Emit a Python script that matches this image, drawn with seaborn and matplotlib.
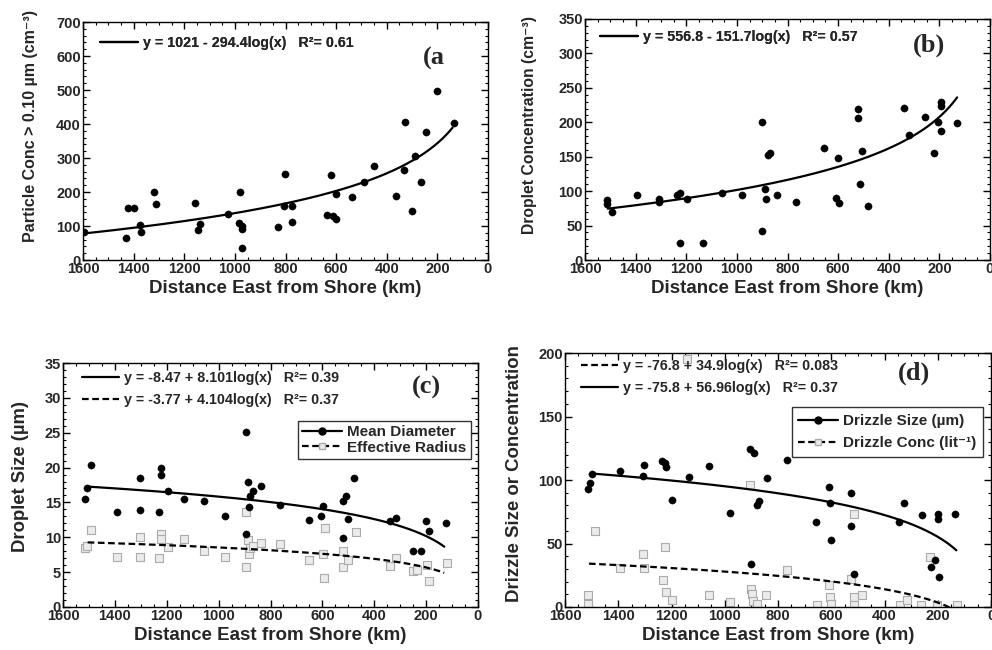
import numpy as np
import pandas as pd
import matplotlib
matplotlib.use("Agg")
import matplotlib.pyplot as plt
from matplotlib.lines import Line2D
from matplotlib.ticker import MultipleLocator
import seaborn as sns

# ---------------- data ----------------
# (a) particle concentration > 0.10 um
a_x = [1597, 1431, 1424, 1397, 1375, 1371, 1321, 1310, 1159, 1147, 1138, 1027, 980, 984, 973, 972, 971,
       831, 802, 805, 776, 774, 638, 620, 614, 602, 602, 536, 491, 449, 365, 328, 331, 302, 288, 266, 246, 201, 136]
a_y = [82, 65, 153, 153, 104, 81, 200, 165, 168, 88, 107, 136, 199, 108, 99, 90, 34,
       97, 254, 158, 158, 112, 132, 250, 128, 122, 194, 184, 228, 277, 188, 405, 265, 145, 305, 228, 377, 496, 403]
# (b) droplet concentration
b_x = [1514, 1512, 1495, 1395, 1308, 1306, 1235, 1225, 1225, 1197, 1135, 1057, 978, 902, 902, 888, 886, 877, 868, 843,
       765, 654, 602, 607, 598, 523, 523, 512, 506, 482, 341, 320, 257, 223, 207, 193, 193, 193, 129]
b_y = [87, 82, 70, 94, 88, 84, 95, 98, 24, 88, 24, 98, 94, 201, 42, 103, 88, 153, 156, 95,
       84, 163, 148, 90, 83, 206, 220, 111, 158, 79, 221, 182, 208, 155, 200, 229, 224, 187, 199]
# (c) mean diameter and effective radius
c_x = [1514, 1507, 1492, 1391, 1305, 1303, 1231, 1223, 1223, 1195, 1134, 1057, 977, 896, 896, 886, 883, 878, 868, 838,
       763, 653, 604, 597, 520, 521, 510, 503, 479, 339, 318, 251, 219, 201, 189, 124]
c_y = [15.5, 17.1, 20.4, 13.6, 18.5, 13.9, 13.6, 20.0, 18.9, 16.7, 15.5, 15.2, 13.0, 25.1, 10.5, 17.9, 14.3, 15.9, 16.7, 17.4,
       14.7, 12.5, 13.1, 14.5, 9.9, 15.2, 15.9, 12.6, 18.5, 12.4, 12.7, 8.0, 8.1, 12.4, 10.9, 12.0]
r_x = [1514, 1507, 1492, 1391, 1305, 1303, 1223, 1223, 1231, 1195, 1134, 1057, 977, 896, 896, 886, 883, 878, 868, 838,
       763, 653, 597, 588, 594, 520, 521, 503, 472, 339, 316, 251, 235, 197, 187, 120]
r_y = [8.4, 8.8, 11.0, 7.2, 10.0, 7.2, 10.5, 9.8, 7.0, 8.6, 9.7, 8.1, 7.2, 13.6, 5.8, 9.6, 7.6, 8.4, 8.8, 9.2,
       9.1, 6.8, 7.6, 11.3, 4.1, 8.1, 5.7, 6.8, 10.7, 5.9, 7.0, 5.1, 5.3, 6.0, 3.7, 6.3]
# (d) drizzle size and drizzle concentration
d_x = [1515, 1507, 1500, 1393, 1303, 1306, 1234, 1224, 1222, 1197, 1136, 1059, 979, 905, 890, 900, 880, 871, 843, 767,
       659, 608, 605, 601, 527, 526, 514, 346, 326, 261, 227, 211, 200, 200, 197, 134]
d_y = [92.7, 97.9, 104.5, 106.8, 111.8, 103.1, 115, 113.4, 110.2, 84, 102, 110.8, 74.3, 124.4, 121.5, 33.6, 80, 83.2, 101.6, 115.5,
       67, 94.5, 81.9, 52.5, 90, 64, 26.2, 67, 81.9, 72.7, 31.5, 36.7, 73.5, 69, 23.6, 73.5]
n_x = [1512, 1512, 1487, 1393, 1306, 1302, 1224, 1233, 1221, 1197, 1143, 1058, 980, 905, 900, 899, 893, 880, 845, 767,
       655, 608, 605, 601, 526, 514, 516, 486, 516, 342, 317, 264, 229, 204, 127]
n_y = [9.2, 2.6, 59.6, 30.4, 41.5, 31, 47.2, 21, 11.8, 5.8, 195, 9.7, 3.9, 95.8, 14.4, 10.5, 4.7, 2.6, 9.2, 28.9,
       1.3, 17, 7.9, 2.1, 22.3, 73.5, 7.9, 9.7, 1.3, 1.8, 5.8, 1.8, 39.4, 1.8, 1.3]

# fitted log curves shown on the chart: y = intercept + slope*log10(x), drawn over [x_start, x_end]
fit_a = (1021.0, -294.4, 1600, 140)
fit_b = (556.8, -151.7, 1510, 130)
fit_c_mean = (-8.47, 8.101, 1505, 130)
fit_c_eff = (-3.77, 4.104, 1505, 130)
fit_d_size = (-75.8, 56.96, 1500, 130)
fit_d_conc = (-76.8, 34.9, 1510, 130)

eq_a = ["y = 1021 - 294.4log(x)   R\u00b2= 0.61"]
eq_b = ["y = 556.8 - 151.7log(x)   R\u00b2= 0.57"]
eq_c = ["y = -8.47 + 8.101log(x)   R\u00b2= 0.39", "y = -3.77 + 4.104log(x)   R\u00b2= 0.37"]
eq_d = ["y = -76.8 + 34.9log(x)   R\u00b2= 0.083", "y = -75.8 + 56.96log(x)   R\u00b2= 0.37"]

xlabel = "Distance East from Shore (km)"
ylabels = ["Particle Conc > 0.10 \u00b5m (cm\u207b\u00b3)", "Droplet Concentration (cm\u207b\u00b3)",
           "Droplet Size (\u00b5m)", "Drizzle Size or Concentration"]
panel_tags = ["(a", "(b)", "(c)", "(d)"]

# ---------------- style ----------------
sns.set_theme(style="ticks")
FAM = ["Liberation Sans", "DejaVu Sans"]
plt.rcParams["font.family"] = FAM
plt.rcParams["font.weight"] = "bold"
plt.rcParams["axes.labelweight"] = "bold"
plt.rcParams["axes.edgecolor"] = "black"
plt.rcParams["axes.linewidth"] = 1.0

fig = plt.figure(figsize=(9.92, 6.5), dpi=100)
ax_a = fig.add_axes([83 / 992, 1 - 260 / 650, 405 / 992, 238 / 650])
ax_b = fig.add_axes([585 / 992, 1 - 260 / 650, 405 / 992, 241 / 650])
ax_c = fig.add_axes([63 / 992, 1 - 607 / 650, 415 / 992, 244 / 650])
ax_d = fig.add_axes([565 / 992, 1 - 607 / 650, 426 / 992, 254 / 650])

DOT = dict(color="black", s=27, edgecolor="black", linewidth=0.3, marker="o", zorder=3)
SQ_FACE, SQ_EDGE = "#ebebeb", "#ababab"
SQ = dict(color=SQ_FACE, s=28, edgecolor=SQ_EDGE, linewidth=0.8, marker="s", zorder=2)
DASH = (3.0, 1.6)


def fit_curve(fit):
    b0, b1, xs, xe = fit
    xx = np.linspace(xs, xe, 300)
    return pd.DataFrame({"x": xx, "y": b0 + b1 * np.log10(xx)})


def draw_fit(ax, fit, dashed=False):
    df = fit_curve(fit)
    sns.lineplot(data=df, x="x", y="y", ax=ax, color="black", lw=1.6, sort=False,
                 zorder=4, legend=False)
    if dashed:
        ax.lines[-1].set_dashes(DASH)


def style_axes(ax, ylim, ymajor, ylabel, ylsize, labelpad, label_y):
    ax.set_xlim(1600, 0)
    ax.set_ylim(*ylim)
    ax.xaxis.set_major_locator(MultipleLocator(200))
    ax.xaxis.set_minor_locator(MultipleLocator(50))
    ax.yaxis.set_major_locator(MultipleLocator(ymajor))
    ax.yaxis.set_minor_locator(MultipleLocator(ymajor / 5))
    ax.tick_params(which="both", direction="in", top=True, right=True, color="black")
    ax.tick_params(which="major", length=5, width=1, labelsize=10.5, pad=1.5)
    ax.tick_params(which="minor", length=2.5, width=0.8)
    for lab in ax.get_xticklabels() + ax.get_yticklabels():
        lab.set_fontweight("bold")
    ax.set_xlabel(xlabel, fontsize=13.5, fontweight="bold", labelpad=3)
    ax.set_ylabel(ylabel, fontsize=ylsize, fontweight="bold", labelpad=labelpad)
    ax.yaxis.label.set_y(label_y)
    for s in ax.spines.values():
        s.set_visible(True)
        s.set_color("black")
        s.set_linewidth(1.0)
    ax.set_facecolor("white")


def eq_legend(ax, text, x, y, dashed=False):
    h = Line2D([], [], color="black", lw=1.6)
    if dashed:
        h.set_dashes(DASH)
    leg = ax.legend(handles=[h], labels=[text], loc="center left", bbox_to_anchor=(x, y),
                    frameon=False, handlelength=2.6, handletextpad=0.35, borderaxespad=0,
                    borderpad=0, prop=dict(family=FAM, weight="bold", size=10.3))
    ax.add_artist(leg)


def tag(ax, text, x, y, ha):
    ax.text(x, y, text, transform=ax.transAxes, ha=ha, va="center",
            fontsize=19, fontweight="bold", family="Liberation Serif")


# (a)
sns.scatterplot(x=a_x, y=a_y, ax=ax_a, **DOT)
draw_fit(ax_a, fit_a)
style_axes(ax_a, (0, 700), 100, ylabels[0], 11.5, 13, 0.563)
eq_legend(ax_a, eq_a[0], 0.043, 0.913)
tag(ax_a, panel_tags[0], 0.84, 0.845, "left")

# (b)
sns.scatterplot(x=b_x, y=b_y, ax=ax_b, **DOT)
draw_fit(ax_b, fit_b)
style_axes(ax_b, (0, 350), 50, ylabels[1], 11.3, 15, 0.56)
eq_legend(ax_b, eq_b[0], 0.038, 0.927)
tag(ax_b, panel_tags[1], 0.85, 0.892, "center")

# (c)
sns.scatterplot(x=r_x, y=r_y, ax=ax_c, **SQ)
sns.scatterplot(x=c_x, y=c_y, ax=ax_c, **DOT)
draw_fit(ax_c, fit_c_mean)
draw_fit(ax_c, fit_c_eff, dashed=True)
style_axes(ax_c, (0, 35), 5, ylabels[2], 13.3, 11, 0.535)
eq_legend(ax_c, eq_c[0], 0.046, 0.94)
eq_legend(ax_c, eq_c[1], 0.046, 0.848, dashed=True)
tag(ax_c, panel_tags[2], 0.876, 0.9, "center")
hm = Line2D([], [], color="black", lw=1.6, marker="o", markersize=5)
he = Line2D([], [], color="black", lw=1.6, marker="s", markersize=5,
            markerfacecolor=SQ_FACE, markeredgecolor=SQ_EDGE)
he.set_dashes(DASH)
lc = ax_c.legend(handles=[hm, he], labels=["Mean Diameter", "Effective Radius"], loc="upper right",
                 bbox_to_anchor=(0.982, 0.7635), frameon=True, fancybox=False, edgecolor="black",
                 handlelength=2.6, handletextpad=0.3, borderpad=0.3, labelspacing=0.1, borderaxespad=0,
                 prop=dict(family=FAM, weight="bold", size=11))
lc.get_frame().set_linewidth(1.0)

# (d)
sns.scatterplot(x=n_x, y=n_y, ax=ax_d, **SQ)
sns.scatterplot(x=d_x, y=d_y, ax=ax_d, **DOT)
draw_fit(ax_d, fit_d_size)
draw_fit(ax_d, fit_d_conc, dashed=True)
style_axes(ax_d, (0, 200), 50, ylabels[3], 13.4, 11, 0.524)
eq_legend(ax_d, eq_d[0], 0.037, 0.95, dashed=True)
eq_legend(ax_d, eq_d[1], 0.037, 0.861)
tag(ax_d, panel_tags[3], 0.82, 0.919, "center")
hs = Line2D([], [], color="black", lw=1.6, marker="o", markersize=5)
hc = Line2D([], [], color="black", lw=1.6, marker="s", markersize=5,
            markerfacecolor=SQ_FACE, markeredgecolor=SQ_EDGE)
hc.set_dashes(DASH)
ld = ax_d.legend(handles=[hs, hc], labels=["Drizzle Size (\u00b5m)", "Drizzle Conc (lit\u207b\u00b9)"],
                 loc="upper right", bbox_to_anchor=(0.981, 0.786), frameon=True, fancybox=False,
                 edgecolor="black", handlelength=2.6, handletextpad=0.3, borderpad=0.45,
                 labelspacing=0.5, borderaxespad=0, prop=dict(family=FAM, weight="bold", size=11))
ld.get_frame().set_linewidth(1.0)

fig.savefig("out.png", dpi=100, facecolor="white")
